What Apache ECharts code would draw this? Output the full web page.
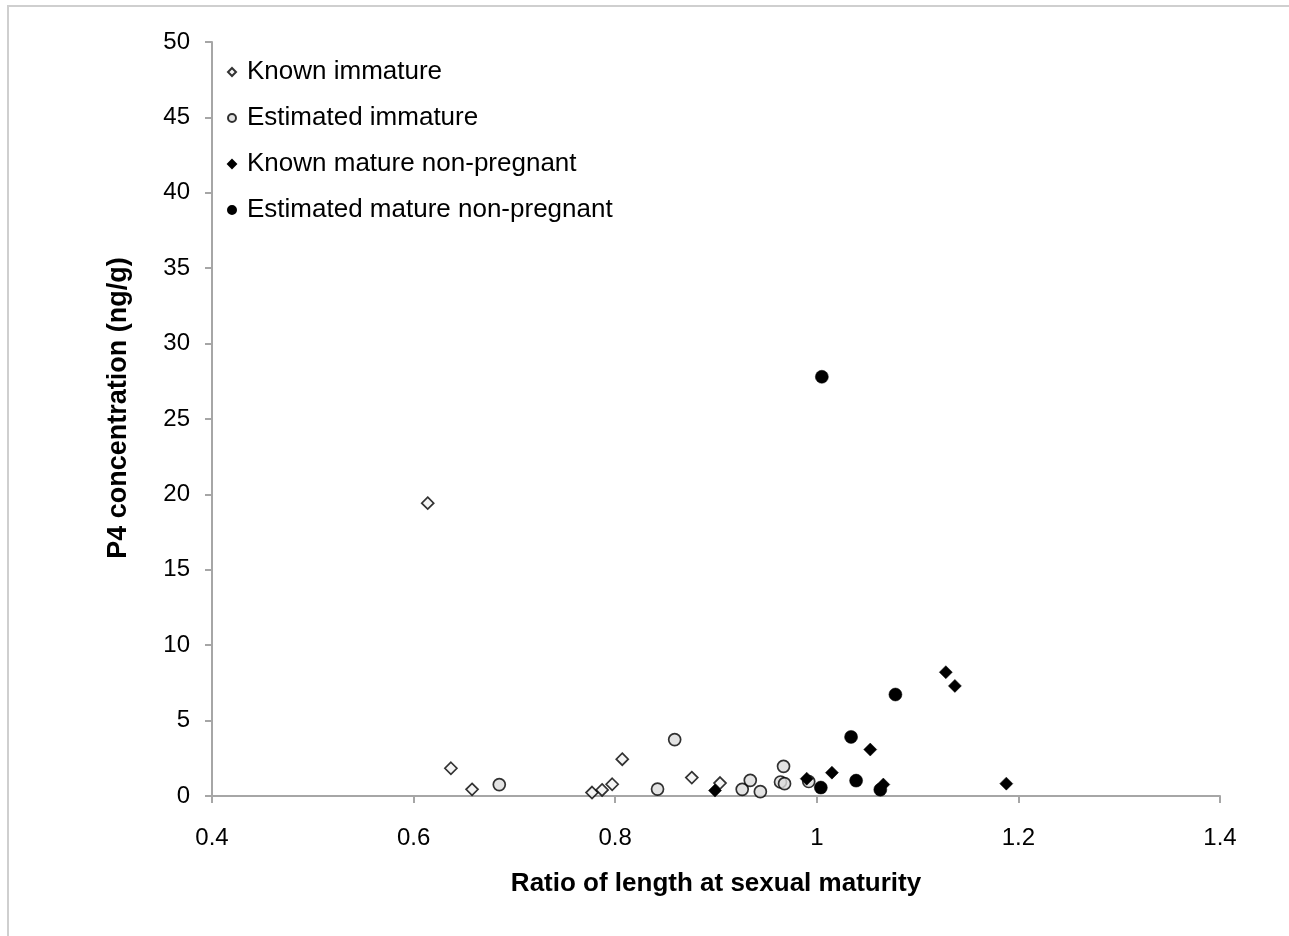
<!DOCTYPE html>
<html>
<head>
<meta charset="utf-8">
<script src="https://cdn.jsdelivr.net/npm/echarts@6/dist/echarts.min.js"></script>
<style>
  html, body { margin: 0; padding: 0; background: #ffffff; }
  #frame { position: absolute; left: 7px; top: 5px; width: 1400px; height: 1000px; border: 2px solid #cfcfcf; box-sizing: border-box; }
  #chart { position: absolute; left: 0; top: 0; width: 1289px; height: 936px; }
</style>
</head>
<body>
<div id="frame"></div>
<div id="chart"></div>
<script>
// Known immature: [ratio, P4]
const knownImmature = [
  [0.614, 19.42], [0.637, 1.84], [0.658, 0.44], [0.777, 0.23], [0.787, 0.40],
  [0.797, 0.78], [0.807, 2.44], [0.876, 1.22], [0.904, 0.86]
];
// Estimated immature
const estimatedImmature = [
  [0.685, 0.76], [0.842, 0.46], [0.859, 3.74], [0.926, 0.44], [0.934, 1.04],
  [0.944, 0.29], [0.964, 0.93], [0.968, 0.82], [0.967, 1.97], [0.992, 0.96]
];
// Known mature non-pregnant
const knownMature = [
  [0.899, 0.36], [0.990, 1.15], [1.015, 1.55], [1.053, 3.08], [1.128, 8.21],
  [1.137, 7.30], [1.066, 0.76], [1.188, 0.82]
];
// Estimated mature non-pregnant
const estimatedMature = [
  [1.005, 27.80], [1.004, 0.56], [1.034, 3.92], [1.039, 1.02], [1.063, 0.42], [1.078, 6.73]
];
const seriesNames = ['Known immature', 'Estimated immature', 'Known mature non-pregnant', 'Estimated mature non-pregnant'];
const xTicks = { min: 0.4, max: 1.4, interval: 0.2 };
const yTicks = { min: 0, max: 50, interval: 5 };

const chart = echarts.init(document.getElementById('chart'), null, { renderer: 'canvas' });
const font = '"Liberation Sans", Arial, sans-serif';
const axisGray = '#a6a6a6';

chart.setOption({
  backgroundColor: 'transparent',
  animation: false,
  textStyle: { fontFamily: font },
  grid: { left: 212, right: 69, top: 42, bottom: 140 },
  legend: {
    orient: 'vertical',
    left: 222,
    top: 52,
    itemWidth: 8,
    itemHeight: 8,
    itemGap: 16,
    textStyle: { fontFamily: font, fontSize: 26, color: '#000', lineHeight: 30, padding: [0, 0, 0, 6] },
    data: seriesNames
  },
  xAxis: {
    type: 'value',
    min: xTicks.min, max: xTicks.max, interval: xTicks.interval,
    name: 'Ratio of length at sexual maturity',
    nameLocation: 'middle',
    nameGap: 75,
    nameTextStyle: { fontFamily: font, fontSize: 26, fontWeight: 'bold', color: '#000' },
    axisLine: { lineStyle: { color: axisGray, width: 2 } },
    axisTick: { show: true, length: 7, lineStyle: { color: axisGray, width: 2 } },
    axisLabel: { margin: 30, fontFamily: font, fontSize: 24, color: '#000',
      formatter: v => (Math.round(v * 10) / 10).toString() },
    splitLine: { show: false }
  },
  yAxis: {
    type: 'value',
    min: yTicks.min, max: yTicks.max, interval: yTicks.interval,
    name: 'P4 concentration (ng/g)',
    nameLocation: 'middle',
    nameGap: 80,
    nameTextStyle: { fontFamily: font, fontSize: 27, fontWeight: 'bold', color: '#000', padding: [0, 0, 0, 22] },
    axisLine: { show: true, lineStyle: { color: axisGray, width: 2 } },
    axisTick: { show: true, length: 7, lineStyle: { color: axisGray, width: 2 } },
    axisLabel: { margin: 22, fontFamily: font, fontSize: 24, color: '#000' },
    splitLine: { show: false }
  },
  series: [
    {
      name: seriesNames[0], type: 'scatter', symbol: 'diamond', symbolSize: 12,
      itemStyle: { color: '#f2f2f2', borderColor: '#000', borderWidth: 1.7 },
      data: knownImmature
    },
    {
      name: seriesNames[1], type: 'scatter', symbol: 'circle', symbolSize: 12,
      itemStyle: { color: '#dcdcdc', borderColor: '#000', borderWidth: 1.7 },
      data: estimatedImmature
    },
    {
      name: seriesNames[2], type: 'scatter', symbol: 'diamond', symbolSize: 13,
      itemStyle: { color: '#000', borderColor: '#000', borderWidth: 0.5, opacity: 1 },
      data: knownMature
    },
    {
      name: seriesNames[3], type: 'scatter', symbol: 'circle', symbolSize: 13,
      itemStyle: { color: '#000', borderColor: '#000', borderWidth: 0.5, opacity: 1 },
      data: estimatedMature
    }
  ]
});
</script>
</body>
</html>
